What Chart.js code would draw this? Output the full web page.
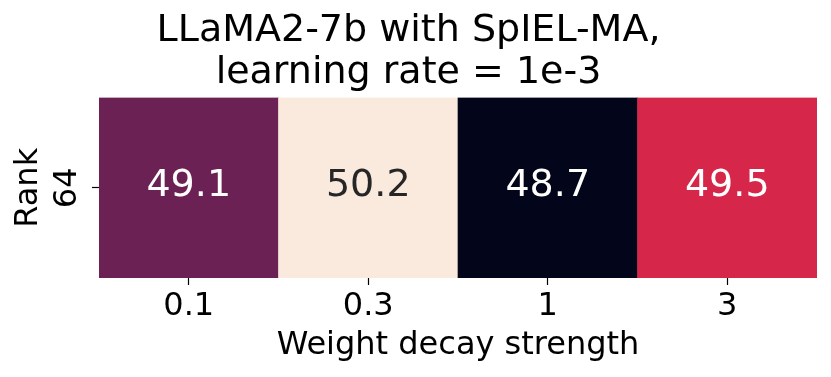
<!DOCTYPE html>
<html>
<head>
<meta charset="utf-8">
<script src="https://cdn.jsdelivr.net/npm/chart.js@4/dist/chart.umd.min.js"></script>
<style>
  html, body { margin: 0; padding: 0; background: #fff; }
  canvas { display: block; }
</style>
</head>
<body>
<canvas id="heat" width="831" height="377"></canvas>
<script>
// --- dados ---
const weightDecay = ['0.1', '0.3', '1', '3'];
const ranks = ['64'];
const accuracy = [49.1, 50.2, 48.7, 49.5];

// cores das células (paleta "rocket")
const cellColors = ['#6b2153', '#faeadd', '#03051a', '#d6274a'];
const textColors = ['#ffffff', '#262626', '#ffffff', '#ffffff'];

const FONT = 'DejaVu Sans';

// escreve o valor no centro de cada célula
const cellLabels = {
    id: 'cellLabels',
    afterDatasetsDraw(chart) {
        const ctx = chart.ctx;
        const meta = chart.getDatasetMeta(0);
        ctx.save();
        ctx.font = `38px "${FONT}"`;
        ctx.textAlign = 'center';
        ctx.textBaseline = 'middle';
        meta.data.forEach((bar, i) => {
            ctx.fillStyle = textColors[i];
            ctx.fillText(accuracy[i].toFixed(1), bar.x, (bar.y + bar.base) / 2 - 2);
        });
        ctx.restore();
    }
};

const ctx = document.getElementById('heat').getContext('2d');
new Chart(ctx, {
    type: 'bar',
    data: {
        labels: weightDecay,
        datasets: [{
            // cada célula ocupa a linha do rank (0), de -0.5 a 0.5
            data: accuracy.map(() => [-0.5, 0.5]),
            backgroundColor: cellColors,
            borderWidth: 0,
            barPercentage: 1,
            categoryPercentage: 1
        }]
    },
    options: {
        responsive: false,
        animation: false,
        layout: { padding: { left: 0, right: 14, top: 0, bottom: 0 } },
        plugins: {
            legend: { display: false },
            tooltip: { enabled: false },
            title: {
                display: true,
                text: ['LLaMA2-7b with SpIEL-MA,', 'learning rate = 1e-3'],
                color: '#000',
                font: { family: FONT, size: 38, weight: 'normal', lineHeight: 1.1 },
                padding: { top: 10, bottom: 4 }
            }
        },
        scales: {
            x: {
                type: 'category',
                offset: true,
                border: { display: false },
                grid: { offset: false, drawOnChartArea: false, tickLength: 7, tickColor: '#000', tickWidth: 1.2 },
                ticks: { color: '#000', font: { family: FONT, size: 32 }, padding: 2, maxRotation: 0, autoSkip: false },
                title: {
                    display: true,
                    text: 'Weight decay strength',
                    color: '#000',
                    font: { family: FONT, size: 32 },
                    padding: { top: 0, bottom: 12 }
                },
                afterFit: s => { s.height = 99; }
            },
            y: {
                type: 'linear',
                min: -0.5,
                max: 0.5,
                border: { display: false },
                grid: { drawOnChartArea: false, tickLength: 7, tickColor: '#000', tickWidth: 1.2 },
                afterBuildTicks: s => { s.ticks = ranks.map((r, i) => ({ value: i })); },
                ticks: {
                    color: '#000',
                    font: { family: FONT, size: 32 },
                    callback: (v, i) => ranks[i],
                    minRotation: 90,
                    maxRotation: 90,
                    crossAlign: 'center',
                    padding: 4
                },
                title: {
                    display: true,
                    text: 'Rank',
                    color: '#000',
                    font: { family: FONT, size: 32 },
                    padding: { top: 9, bottom: 0 }
                },
                afterFit: s => { s.width = 99; }
            }
        }
    },
    plugins: [cellLabels]
});
</script>
</body>
</html>
